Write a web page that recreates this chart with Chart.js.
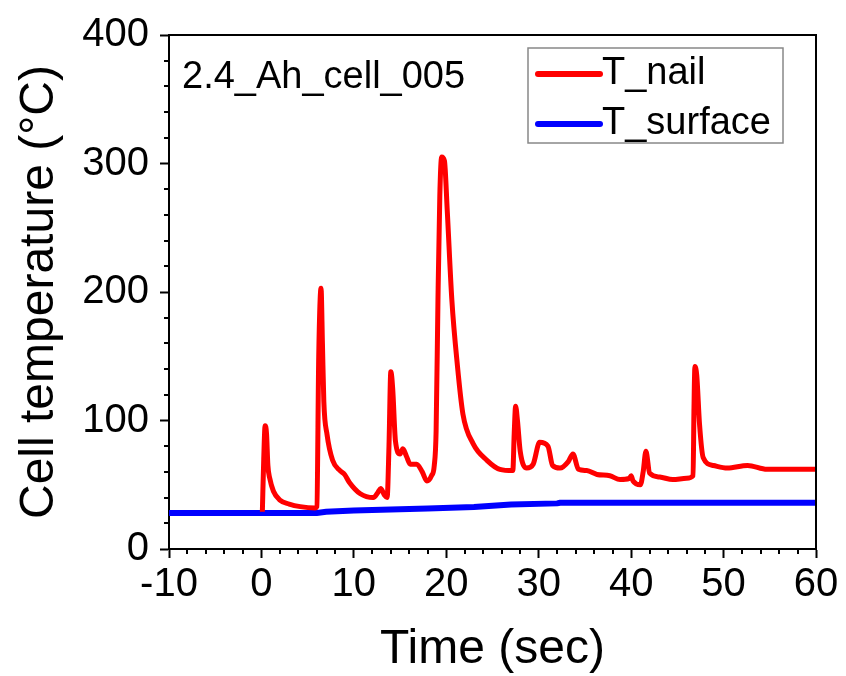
<!DOCTYPE html>
<html>
<head>
<meta charset="utf-8">
<script src="https://cdn.jsdelivr.net/npm/chart.js@4.4.1/dist/chart.umd.min.js"></script>
<style>
  body { margin: 0; background: #fff; }
  canvas { display: block; }
</style>
</head>
<body>
<canvas id="tempChart" width="846" height="676"></canvas>
<script>
// T_nail (red)
var nailTime = [0.1, 0.25, 0.4, 0.55, 0.7, 0.9, 1.3, 2.0, 3.0, 4.2, 5.8, 6.0, 6.2, 6.45, 6.6, 6.75, 7.1, 7.7, 8.5, 9.0, 9.5, 10.7,
  12.1, 12.6, 12.9, 13.3, 13.6, 13.8, 14.0, 14.2, 14.5, 15.0, 15.3, 15.7, 16.1, 16.8, 17.4, 17.9, 18.4, 18.7, 18.9,
  19.1, 19.3, 19.5, 19.8, 20.1, 20.6, 21.2, 21.8, 22.9, 24.4, 25.8, 27.2, 27.35, 27.5, 27.7, 28.0, 28.7, 29.4, 30.1,
  31.0, 31.5, 32.3, 33.2, 33.7, 34.3, 35.2, 36.3, 37.7, 38.8, 39.8, 40.0, 40.2, 41.0, 41.3, 41.6, 42.0, 43.1, 44.5,
  46.0, 46.7, 46.8, 46.9, 47.1, 47.4, 47.8, 48.9, 50.4, 52.6, 54.7, 60];
var nailTemp = [29, 70, 96, 90, 65, 55, 45, 38, 35, 33, 32, 33, 150, 203, 160, 115, 89, 69, 61, 58, 52, 43,
  40, 44, 47, 42, 40, 80, 138, 125, 84, 74, 78, 72, 66, 66, 60, 53, 57, 65, 92,
  194, 275, 305, 302, 264, 194, 143, 105, 82, 69, 62, 61, 90, 111, 100, 76, 63, 66, 83,
  80, 65, 63, 68, 74, 62, 61, 58, 57, 54, 55, 57, 53, 50, 60, 76, 59, 56, 54,
  55, 57, 110, 142, 135, 97, 71, 65, 63, 65, 62, 62];

// T_surface (blue)
var surfaceTime = [-10, 6, 7, 10, 18, 23, 27, 32, 32.3, 60];
var surfaceTemp = [28, 28, 29, 30, 31.6, 32.6, 34.7, 35.5, 36, 36];

var xTicks = [-10, 0, 10, 20, 30, 40, 50, 60];
var yTicks = [0, 100, 200, 300, 400];
var seriesNames = ["T_nail", "T_surface"];
var seriesColors = ["#ff0000", "#0000ff"];
var sampleName = "2.4_Ah_cell_005";

function toPoints(xs, ys) {
  return xs.map(function (x, i) { return { x: x, y: ys[i] }; });
}

var boxPlugin = {
  id: 'boxPlugin',
  afterDraw: function (chart) {
    var c = chart.ctx, a = chart.chartArea;
    var xs = chart.scales.x, ys = chart.scales.y;
    c.save();
    c.strokeStyle = '#000';
    c.lineWidth = 2;
    // top + right frame
    c.beginPath();
    c.moveTo(a.left, a.top); c.lineTo(a.right, a.top); c.lineTo(a.right, a.bottom);
    c.stroke();
    // minor ticks
    c.beginPath();
    for (var v = -10; v <= 60; v += 2) {
      if (v % 10 === 0) continue;
      var px = Math.round(xs.getPixelForValue(v));
      c.moveTo(px, a.bottom); c.lineTo(px, a.bottom + 5);
    }
    for (var w = 0; w <= 400; w += 20) {
      if (w % 100 === 0) continue;
      var py = Math.round(ys.getPixelForValue(w));
      c.moveTo(a.left, py); c.lineTo(a.left - 5, py);
    }
    c.stroke();

    // sample name
    c.fillStyle = '#000';
    c.font = '38px "Liberation Sans", Arial, sans-serif';
    c.textBaseline = 'alphabetic';
    c.textAlign = 'left';
    c.fillText(sampleName, a.left + 13, a.top + 53);

    // legend
    var lx = 528, ly = 48;
    c.strokeStyle = '#888';
    c.lineWidth = 1.5;
    c.strokeRect(lx, ly, 255, 95);
    c.lineCap = 'round';
    c.lineWidth = 6;
    for (var i = 0; i < seriesNames.length; i++) {
      var yy = ly + 26 + i * 50;
      c.strokeStyle = seriesColors[i];
      c.beginPath(); c.moveTo(lx + 10, yy); c.lineTo(lx + 72, yy); c.stroke();
      c.fillText(seriesNames[i], lx + 74, yy + 10);
    }
    c.restore();
  }
};

var tickColor = function (step) {
  return function (ctx) {
    return ctx.tick && ctx.tick.value % step === 0 ? '#000' : 'rgba(0,0,0,0)';
  };
};

var ctx = document.getElementById('tempChart').getContext('2d');
var myChart = new Chart(ctx, {
  type: 'scatter',
  data: {
    datasets: [
      {
        label: seriesNames[0],
        data: toPoints(nailTime, nailTemp),
        showLine: true,
        borderColor: seriesColors[0],
        backgroundColor: seriesColors[0],
        borderWidth: 5,
        pointRadius: 0,
        cubicInterpolationMode: 'monotone'
      },
      {
        label: seriesNames[1],
        data: toPoints(surfaceTime, surfaceTemp),
        showLine: true,
        borderColor: seriesColors[1],
        backgroundColor: seriesColors[1],
        borderWidth: 6,
        pointRadius: 0,
        tension: 0
      }
    ]
  },
  options: {
    responsive: false,
    animation: false,
    layout: { padding: { top: 30, right: 30, left: 0, bottom: 0 } },
    plugins: { legend: { display: false }, tooltip: { enabled: false } },
    scales: {
      x: {
        type: 'linear', min: -10, max: 60,
        afterFit: function (s) { s.height = 127; },
        border: { color: '#000', width: 2 },
        grid: { drawOnChartArea: false, tickLength: 9, tickWidth: 2, tickColor: tickColor(10) },
        ticks: {
          stepSize: 2, autoSkip: false, maxRotation: 0, padding: 3, color: '#000',
          font: { family: '"Liberation Sans", Arial, sans-serif', size: 40 },
          callback: function (v) { return xTicks.indexOf(v) >= 0 ? v : ''; }
        },
        title: {
          display: true, text: 'Time (sec)', color: '#000', padding: 0,
          font: { family: '"Liberation Sans", Arial, sans-serif', size: 48, lineHeight: 1.1 }
        }
      },
      y: {
        min: 0, max: 400,
        afterFit: function (s) { s.width = 169; },
        border: { color: '#000', width: 2 },
        grid: { drawOnChartArea: false, tickLength: 9, tickWidth: 2, tickColor: tickColor(100) },
        ticks: {
          stepSize: 20, autoSkip: false, padding: 11, color: '#000',
          font: { family: '"Liberation Sans", Arial, sans-serif', size: 40 },
          callback: function (v) { return yTicks.indexOf(v) >= 0 ? v : ''; }
        },
        title: {
          display: true, text: 'Cell temperature (°C)', color: '#000', padding: { top: 11, bottom: 0 },
          font: { family: '"Liberation Sans", Arial, sans-serif', size: 48 }
        }
      }
    }
  },
  plugins: [boxPlugin]
});
</script>
</body>
</html>
